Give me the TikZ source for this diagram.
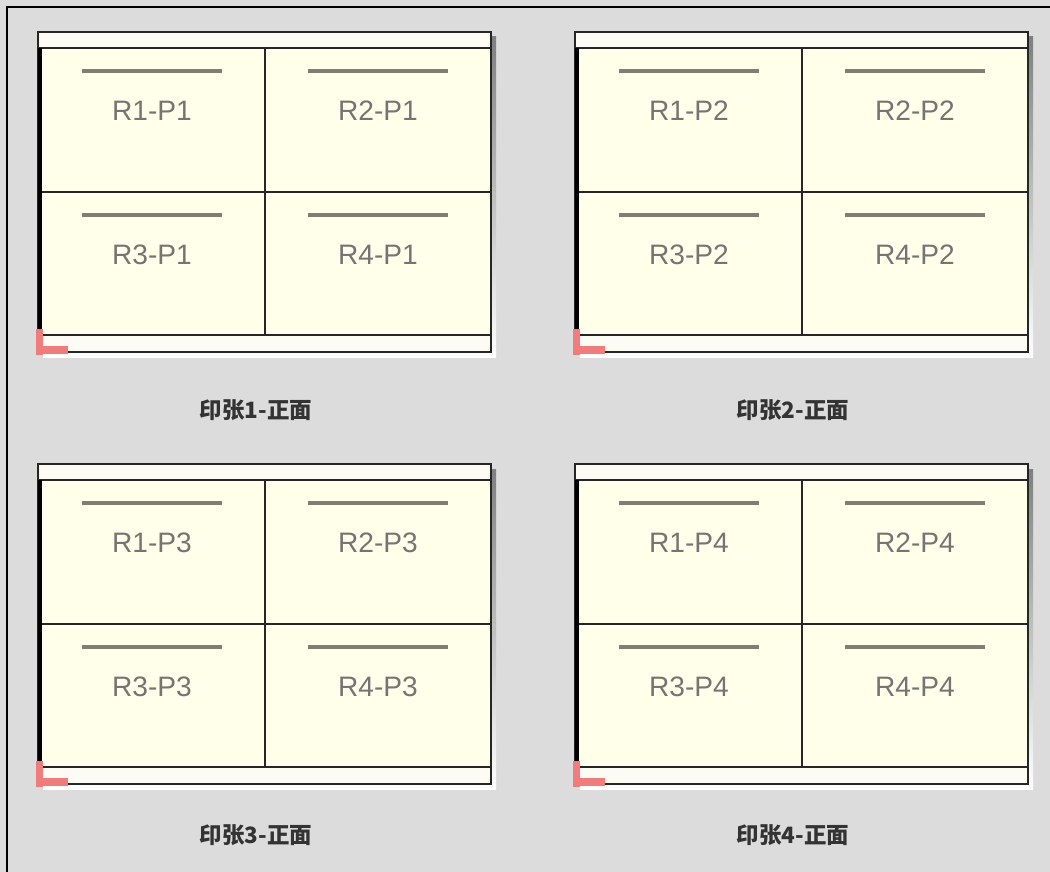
\documentclass[tikz,border=0pt]{standalone}
\usepackage{fontspec}
\setmainfont{Liberation Sans}
\newfontfamily\cjk{Noto Sans CJK SC}
\definecolor{bgc}{HTML}{DCDCDC}
\definecolor{strip}{HTML}{FCFCF4}
\definecolor{cellbg}{HTML}{FFFFEA}
\definecolor{rulec}{HTML}{7F7E72}
\definecolor{celltext}{HTML}{747474}
\definecolor{labtext}{HTML}{333333}
\definecolor{shade}{HTML}{707070}
\definecolor{markc}{HTML}{F07C7C}
\begin{document}
\begin{tikzpicture}[x=0.025cm, y=-0.025cm]
  \tikzset{
    pagetext/.style={font=\fontsize{20}{20}\selectfont, text=celltext},
    sheetlab/.style={font=\cjk\bfseries\fontsize{16}{16}\selectfont, text=labtext},
    frame/.style={black!85, line width=1.4pt},
  }
  % tlo
  \fill[bgc] (0,0) rectangle (1050,872);
  \useasboundingbox (0,0) rectangle (1050,872);
  \draw[black, line width=1.5pt] (7,872) -- (7,7) -- (1050,7);

  % arkusze
  \foreach \ox/\oy/\s/\ly in {0/0/1/410, 537/0/2/410, 0/432/3/835, 537/432/4/835} {
    \begin{scope}[shift={(\ox,\oy)}]
      \fill[shade] (43,37) rectangle (496,357);
      \draw[frame, fill=strip] (38,32) rectangle (491,352);
      \draw[frame, line width=1pt, fill=cellbg] (40,48) rectangle (491,335);
      \draw[black!85, line width=1pt] (265,48) -- (265,335);
      \draw[black!85, line width=1pt] (40,192) -- (491,192);
      \draw[black, line width=2.2pt] (40,48) -- (40,335);
      % strony
      \foreach \cx/\cy/\r in {152/48/1, 378/48/2, 152/192/3, 378/192/4} {
        \draw[rulec, line width=2.8pt] ({\cx-70},{\cy+23}) -- ({\cx+70},{\cy+23});
        \node[pagetext] (r\r p\s) at (\cx,{\cy+63}) {R\r-P\s};
      }
      % znacznik
      \fill[markc] (36,329) rectangle (43,355);
      \fill[markc] (36,346) rectangle (68,354);
    \end{scope}
    \node[sheetlab] (lab\s) at ({\ox+256},\ly) {印张\s-正面};
  }
\end{tikzpicture}
\end{document}
